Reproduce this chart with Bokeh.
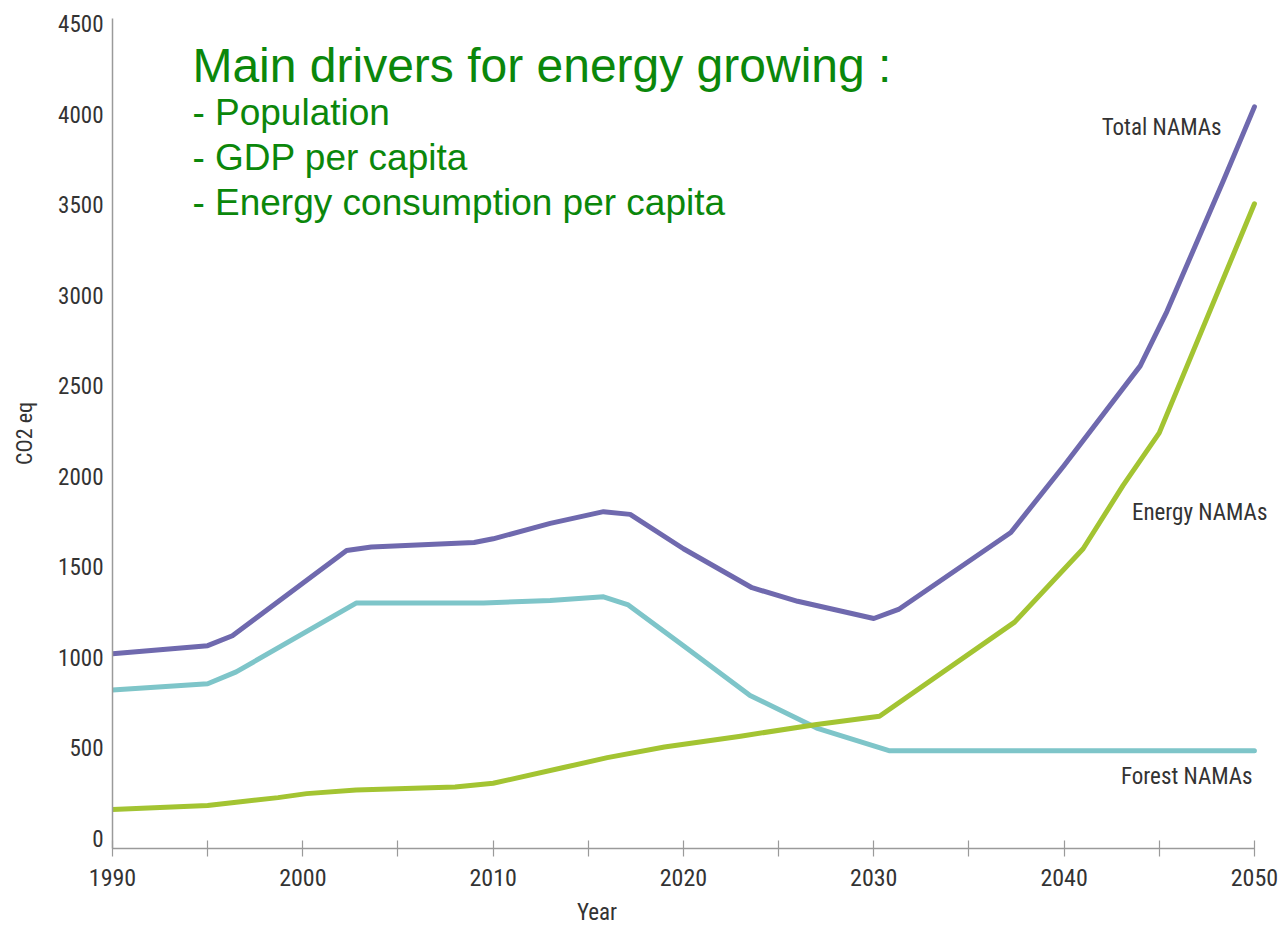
from bokeh.plotting import figure
from bokeh.models import (Label, FixedTicker, Range1d, LinearAxis,
                          CustomJSTickFormatter)
from bokeh.embed import file_html
from bokeh.resources import INLINE

# ---- data ----
total_years = [1990, 1995, 1996.3, 2002.3, 2003.6, 2009, 2010, 2013, 2015.8, 2017.2,
               2020, 2023.6, 2026, 2030, 2031.3, 2037.2, 2040, 2044, 2045.4, 2048.4, 2050]
total_vals = [1020, 1065, 1120, 1590, 1610, 1635, 1655, 1740, 1805, 1790,
              1600, 1385, 1310, 1215, 1265, 1690, 2060, 2610, 2910, 3640, 4040]

forest_years = [1990, 1995, 1996.5, 2002.8, 2009.5, 2013, 2015.8, 2017.1, 2020,
                2023.5, 2027, 2030.8, 2050]
forest_vals = [820, 855, 920, 1300, 1300, 1315, 1335, 1290, 1065, 790, 610, 485, 485]

energy_years = [1990, 1995, 1996.5, 1998.7, 2000.2, 2002.8, 2008, 2010, 2013.7, 2016,
                2019, 2023, 2027, 2030.3, 2037.4, 2041, 2043.1, 2045, 2050]
energy_vals = [160, 182, 200, 226, 248, 268, 285, 305, 392, 447,
               505, 565, 630, 675, 1195, 1600, 1950, 2240, 3505]

x_ticks = [1990, 2000, 2010, 2020, 2030, 2040, 2050]
x_minor = [1995, 2005, 2015, 2025, 2035, 2045]
y_ticks = [0, 500, 1000, 1500, 2000, 2500, 3000, 3500, 4000, 4500]

title_lines = ["Main drivers for energy growing :", "- Population",
               "- GDP per capita", "- Energy consumption per capita"]

NARROW = "'Roboto Condensed', 'DejaVu Sans Condensed', 'Liberation Sans Narrow', Roboto, sans-serif"
AXIS_GREY = "#9a9a9a"
TEXT_GREY = "#333333"
GREEN_TXT = "#0b870b"

p = figure(width=1280, height=928, output_backend="svg", toolbar_location=None,
           x_range=Range1d(1990, 2051.16), y_range=Range1d(-55, 4528),
           min_border_left=112, min_border_right=4, min_border_top=18,
           min_border_bottom=79)
p.outline_line_color = None
p.grid.grid_line_color = None
p.background_fill_color = "white"
p.border_fill_color = "white"

# x axis
xa = p.xaxis[0]
xa.bounds = (1990, 2050)
xa.ticker = FixedTicker(ticks=x_ticks, minor_ticks=x_minor)
xa.axis_line_color = AXIS_GREY
xa.axis_line_width = 1.5
xa.major_tick_line_color = AXIS_GREY
xa.minor_tick_line_color = AXIS_GREY
xa.major_tick_line_width = 1.2
xa.minor_tick_line_width = 1.2
xa.major_tick_in = 8
xa.major_tick_out = 8
xa.minor_tick_in = 8
xa.minor_tick_out = 8
xa.major_label_text_font = NARROW
xa.major_label_text_font_size = "24px"
xa.major_label_text_color = TEXT_GREY
xa.major_label_standoff = 12

# "Year" title: a second, bare axis whose single tick label reads "Year"
year_axis = LinearAxis(ticker=FixedTicker(ticks=[2015.46]),
                       formatter=CustomJSTickFormatter(code="return 'Year'"))
year_axis.axis_line_color = None
year_axis.major_tick_line_color = None
year_axis.minor_tick_line_color = None
year_axis.major_tick_in = 0
year_axis.major_tick_out = 0
year_axis.major_label_standoff = 10
year_axis.major_label_text_font = NARROW
year_axis.major_label_text_font_size = "23px"
year_axis.major_label_text_color = TEXT_GREY
p.add_layout(year_axis, "below")

# y axis
ya = p.yaxis[0]
ya.ticker = FixedTicker(ticks=y_ticks)
ya.axis_line_color = AXIS_GREY
ya.axis_line_width = 1.5
ya.major_tick_line_color = None
ya.minor_tick_line_color = None
ya.major_tick_in = 0
ya.major_tick_out = 0
ya.major_label_text_font = NARROW
ya.major_label_text_font_size = "23px"
ya.major_label_text_color = TEXT_GREY
ya.major_label_standoff = 9
ya.axis_label = "CO2 eq"
ya.axis_label_text_font = NARROW
ya.axis_label_text_font_size = "22px"
ya.axis_label_text_font_style = "normal"
ya.axis_label_text_color = TEXT_GREY
ya.axis_label_standoff = 18

# lines
p.line(forest_years, forest_vals, line_color="#7ec5c9", line_width=5,
       line_join="round", line_cap="round")
p.line(energy_years, energy_vals, line_color="#a3c432", line_width=5,
       line_join="round", line_cap="round")
p.line(total_years, total_vals, line_color="#6f69ae", line_width=5,
       line_join="round", line_cap="round")

# series labels
for txt, x, y in [("Total NAMAs", 2048.27, 3926),
                  ("Energy NAMAs", 2050.68, 1798),
                  ("Forest NAMAs", 2049.9, 342)]:
    p.add_layout(Label(x=x, y=y, text=txt, text_align="right",
                       text_baseline="middle", text_font=NARROW,
                       text_font_size="23px", text_color=TEXT_GREY))

# green annotation block
for txt, y, size in zip(title_lines, [4268, 4009, 3761, 3513],
                        ["48px", "37px", "37px", "37px"]):
    p.add_layout(Label(x=1994.2, y=y, text=txt, text_align="left",
                       text_baseline="alphabetic", text_font="Liberation Sans",
                       text_font_size=size, text_color=GREEN_TXT))

open("out.html", "w").write(file_html(p, INLINE))
